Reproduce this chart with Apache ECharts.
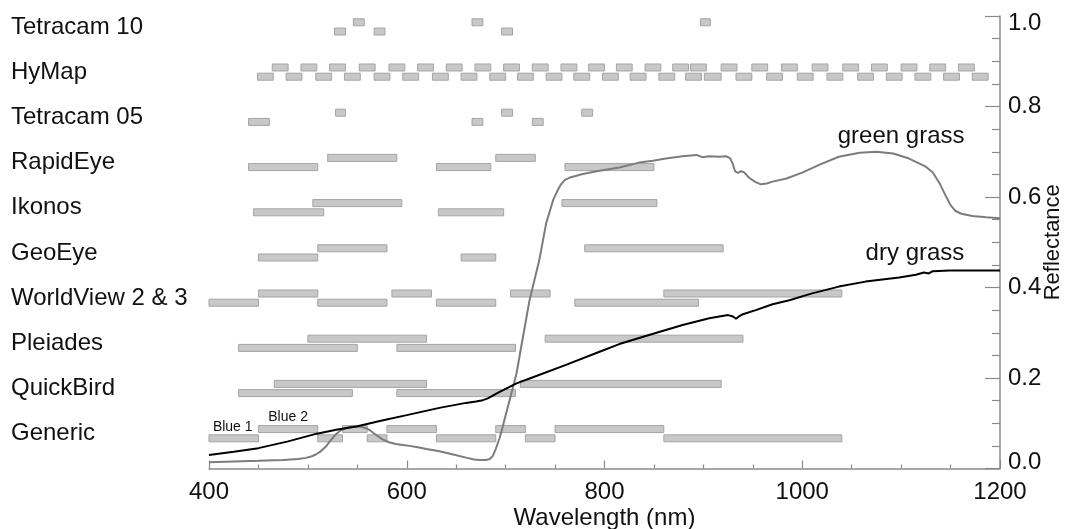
<!DOCTYPE html>
<html>
<head>
<meta charset="utf-8">
<script src="https://cdn.jsdelivr.net/npm/echarts@6/dist/echarts.min.js"></script>
<style>
html,body{margin:0;padding:0;background:#fff;}
#chart{width:1065px;height:529px;}
</style>
</head>
<body>
<div id="chart"></div>
<script>
// ---- data ----
const sensors = ['Generic','QuickBird','Pleiades','WorldView 2 & 3','GeoEye','Ikonos','RapidEye','Tetracam 05','HyMap','Tetracam 10'];
const xTicks = [400, 600, 800, 1000, 1200];
const yTicks = [0.0, 0.2, 0.4, 0.6, 0.8, 1.0];

// bands: [start nm, end nm, level (1 = upper, 0 = lower)]
const genericBands = [[400,450,0],[450,510,1],[510,535,0],[535,560,1],[560,580,0],[580,630,1],[630,690,0],[690,720,1],[720,750,0],[750,860,1],[860,1040,0]];
const quickbirdBands = [[430,545,0],[466,620,1],[590,710,0],[715,918,1]];
const pleiadesBands = [[430,550,0],[500,620,1],[590,710,0],[740,940,1]];
const worldviewBands = [[400,450,0],[450,510,1],[510,580,0],[585,625,1],[630,690,0],[705,745,1],[770,895,0],[860,1040,1]];
const geoeyeBands = [[450,510,0],[510,580,1],[655,690,0],[780,920,1]];
const ikonosBands = [[445,516,0],[505,595,1],[632,698,0],[757,853,1]];
const rapideyeBands = [[440,510,0],[520,590,1],[630,685,0],[690,730,1],[760,850,0]];
const tetracam05Bands = [[440,461,0],[528,538,1],[666,677,0],[696,707,1],[727,738,0],[777,788,1]];
const hymapBands = [
  [449,465,0],[478,494,0],[508,524,0],[537,553,0],[567,583,0],[596,612,0],[626,642,0],[655,671,0],[684,700,0],
  [712,728,0],[741,757,0],[769,785,0],[798,814,0],[826,842,0],[855,871,0],[882,898,0],[901,918,0],[933,949,0],
  [964,980,0],[995,1011,0],[1025,1041,0],[1056,1072,0],[1085,1101,0],[1114,1130,0],[1143,1159,0],[1172,1188,0],
  [464,480,1],[493,509,1],[522,538,1],[552,568,1],[582,598,1],[611,627,1],[640,656,1],[669,685,1],[698,714,1],
  [727,743,1],[756,772,1],[784,800,1],[812,828,1],[841,857,1],[869,885,1],[887,903,1],[918,934,1],[949,965,1],
  [979,995,1],[1010,1026,1],[1041,1057,1],[1070,1086,1],[1100,1116,1],[1129,1145,1],[1158,1174,1]
];
const tetracam10Bands = [[527,538,0],[546,557,1],[567,578,0],[666,677,1],[696,707,0],[897,907,1]];

const sensorBands = [genericBands, quickbirdBands, pleiadesBands, worldviewBands, geoeyeBands, ikonosBands, rapideyeBands, tetracam05Bands, hymapBands, tetracam10Bands];

const greenGrass = [[400,0.014],[450,0.017],[475,0.019],[490,0.021],[498,0.0235],[504,0.027],[508,0.031],[513,0.038],[518,0.048],[523,0.062],[528,0.075],[533,0.084],[538,0.089],[543,0.092],[549,0.093],[554,0.092],[559,0.089],[563,0.084],[566,0.079],[571,0.071],[576,0.064],[582,0.058],[589,0.054],[596,0.052],[603,0.050],[611,0.047],[620,0.043],[633,0.038],[647,0.031],[660,0.024],[668,0.020],[674,0.019],[680,0.019],[684,0.021],[687,0.028],[690,0.043],[694,0.068],[697,0.092],[704,0.151],[711,0.21],[717,0.284],[724,0.37],[734,0.46],[741,0.542],[748,0.593],[752,0.612],[756,0.628],[760,0.638],[765,0.643],[778,0.651],[795,0.658],[815,0.665],[835,0.676],[849,0.680],[862,0.685],[879,0.690],[893,0.693],[899,0.688],[906,0.690],[916,0.689],[923,0.690],[927,0.686],[930,0.672],[932,0.657],[935,0.653],[938,0.657],[941,0.655],[946,0.643],[952,0.634],[958,0.628],[964,0.630],[970,0.634],[984,0.641],[1000,0.654],[1017,0.671],[1037,0.689],[1058,0.698],[1075,0.700],[1092,0.696],[1108,0.685],[1125,0.667],[1132,0.654],[1139,0.630],[1145,0.603],[1150,0.582],[1155,0.569],[1161,0.563],[1172,0.558],[1186,0.555],[1200,0.553]];

const dryGrass = [[400,0.030],[425,0.037],[450,0.045],[480,0.060],[509,0.077],[530,0.086],[549,0.093],[575,0.106],[600,0.118],[633,0.134],[660,0.145],[670,0.148],[677,0.151],[682,0.155],[687,0.161],[693,0.168],[700,0.176],[711,0.188],[727,0.201],[761,0.229],[795,0.258],[815,0.275],[845,0.295],[879,0.317],[906,0.332],[925,0.339],[930,0.336],[933,0.331],[936,0.336],[940,0.341],[953,0.350],[970,0.363],[987,0.372],[1010,0.387],[1037,0.402],[1064,0.413],[1098,0.422],[1115,0.428],[1123,0.433],[1128,0.431],[1132,0.436],[1149,0.4375],[1200,0.4375]];

// ---- build ----
const barData = [];
sensorBands.forEach((bands, row) => bands.forEach(b => barData.push([b[0], b[1], row, b[2]])));

const FONT = 'Liberation Sans, Arial, Helvetica, sans-serif';
const AX = '#8a8a8a';
const FS = 24;

const chart = echarts.init(document.getElementById('chart'));
chart.setOption({
  animation: false,
  backgroundColor: '#fff',
  grid: { left: 209, right: 65, top: 16, bottom: 60.5, containLabel: false, outerBoundsMode: 'none' },
  xAxis: {
    type: 'value', min: 400, max: 1200, interval: 200,
    axisLine: { show: true, onZero: false, lineStyle: { color: AX, width: 1.5 } },
    axisTick: { show: true, inside: true, length: 8, lineStyle: { color: AX, width: 1.2 } },
    minorTick: { show: true, splitNumber: 4, length: 4, lineStyle: { color: AX, width: 1.2 } },
    splitLine: { show: false },
    axisLabel: { fontSize: FS, color: '#111', margin: 12, fontFamily: FONT, formatter: v => String(v) },
    name: 'Wavelength (nm)', nameLocation: 'middle', nameGap: 38, nameMoveOverlap: false,
    nameTextStyle: { fontSize: FS, color: '#111', fontFamily: FONT }
  },
  yAxis: [
    {
      type: 'value', position: 'right', min: 0, max: 1, interval: 0.2,
      axisLine: { show: true, lineStyle: { color: AX, width: 1.5 } },
      axisTick: { show: true, inside: true, length: 15, lineStyle: { color: AX, width: 1.2 } },
      minorTick: { show: true, splitNumber: 4, length: 8, lineStyle: { color: AX, width: 1.2 } },
      splitLine: { show: false },
      axisLabel: {
        margin: 8, fontSize: FS, color: '#111', fontFamily: FONT,
        formatter: v => {
          const t = v.toFixed(1);
          if (v === 0) return '{lo|' + t + '}';
          if (v === 1) return '{hi|' + t + '}';
          return t;
        },
        rich: {
          lo: { fontSize: FS, color: '#111', fontFamily: FONT, padding: [0, 0, 13, 0] },
          hi: { fontSize: FS, color: '#111', fontFamily: FONT, padding: [15, 0, 0, 0] }
        }
      },
      name: 'Reflectance', nameLocation: 'middle', nameRotate: 90, nameGap: 42, nameMoveOverlap: false,
      nameTextStyle: { fontSize: 22, color: '#111', fontFamily: FONT }
    },
    {
      type: 'value', position: 'left', min: -0.770, max: 9.241,
      axisLine: { show: false }, axisTick: { show: false }, splitLine: { show: false },
      axisLabel: {
        customValues: sensors.map((s, i) => i),
        formatter: v => sensors[Math.round(v)] || '',
        align: 'left', margin: 198, fontSize: FS, color: '#111', fontFamily: FONT
      }
    }
  ],
  series: [
    {
      type: 'custom', xAxisIndex: 0, yAxisIndex: 1, z: 1, clip: false,
      data: barData,
      encode: { x: [0, 1], y: 2 },
      renderItem: (params, api) => {
        const yv = api.value(2) + (api.value(3) ? 0.102 : -0.102);
        const p1 = api.coord([api.value(0), yv]);
        const p2 = api.coord([api.value(1), yv]);
        return {
          type: 'rect',
          shape: { x: p1[0], y: p1[1] - 3.5, width: p2[0] - p1[0], height: 7 },
          style: { fill: '#c8c8c8', stroke: '#a4a4a4', lineWidth: 1 }
        };
      }
    },
    {
      name: 'green grass', type: 'line', xAxisIndex: 0, yAxisIndex: 0, z: 3,
      data: greenGrass, showSymbol: false, symbol: 'none',
      lineStyle: { color: '#7c7c7c', width: 2 },
      markPoint: {
        symbol: 'circle', symbolSize: 0,
        label: { show: true, position: 'inside', formatter: p => p.name, color: '#111', fontFamily: FONT, fontSize: FS },
        data: [
          { name: 'green grass', coord: [1100, 0.735] },
          { name: 'Blue 1', coord: [424, 0.092], label: { fontSize: 14 } },
          { name: 'Blue 2', coord: [480, 0.113], label: { fontSize: 14 } }
        ]
      }
    },
    {
      name: 'dry grass', type: 'line', xAxisIndex: 0, yAxisIndex: 0, z: 4,
      data: dryGrass, showSymbol: false, symbol: 'none',
      lineStyle: { color: '#000', width: 2 },
      markPoint: {
        symbol: 'circle', symbolSize: 0,
        label: { show: true, position: 'inside', formatter: p => p.name, color: '#111', fontFamily: FONT, fontSize: FS },
        data: [{ name: 'dry grass', coord: [1114, 0.476] }]
      }
    }
  ]
});
</script>
</body>
</html>
